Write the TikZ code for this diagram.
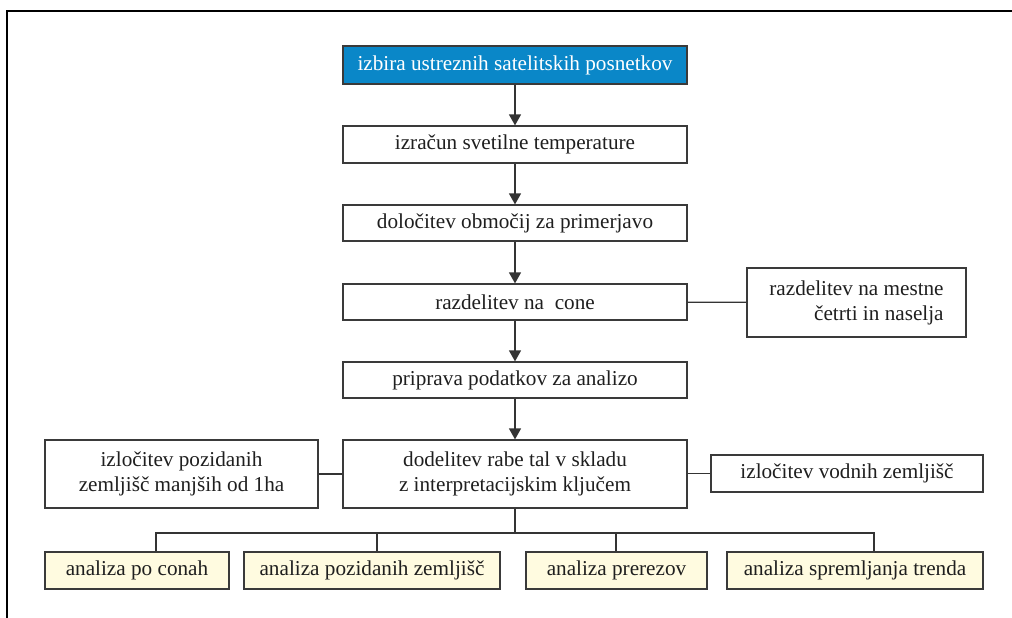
\documentclass[tikz,border=0pt]{standalone}
\usepackage{fontspec}
\setmainfont{Liberation Serif}
\usetikzlibrary{arrows.meta}
\definecolor{bordercol}{HTML}{3A3A3A}
\definecolor{bluefill}{HTML}{0A87C8}
\definecolor{creamfill}{HTML}{FFFBE0}
\begin{document}
\begin{tikzpicture}[x=1pt,y=-1pt,
  box/.style={draw=bordercol, line width=1.2pt, fill=white, inner sep=0pt,
    font=\fontsize{21.2}{25}\selectfont, align=center, text=black!88},
  bluebox/.style={box, fill=bluefill, text=white},
  creambox/.style={box, fill=creamfill},
  conn/.style={draw=bordercol!90!black, line width=1.2pt},
  arr/.style={conn, -{Triangle[width=12pt,length=11pt]}}]
\useasboundingbox (0,0) rectangle (1012,618);
\draw[line width=1.4pt, black] (7,618) -- (7,11) -- (1012,11);

\node[bluebox, minimum width=344, minimum height=38] (n1) at (515,65) {izbira ustreznih satelitskih posnetkov};
\node[box, minimum width=344, minimum height=37] (n2) at (515,144.5) {izračun svetilne temperature};
\node[box, minimum width=344, minimum height=36] (n3) at (515,223) {določitev območij za primerjavo};
\node[box, minimum width=344, minimum height=36] (n4) at (515,302) {razdelitev na \ cone};
\node[box, minimum width=219, minimum height=69, align=right] (m) at (856.5,302.5) {razdelitev na mestne\\četrti in naselja};
\node[box, minimum width=344, minimum height=36] (n5) at (515,380) {priprava podatkov za analizo};
\node[box, minimum width=344, minimum height=68] (n6) at (515,474) {dodelitev rabe tal v skladu\\z interpretacijskim ključem};
\node[box, minimum width=273, minimum height=68] (l) at (181.5,474) {izločitev pozidanih\\zemljišč manjših od 1ha};
\node[box, minimum width=272, minimum height=37] (r) at (847,473.5) {izločitev vodnih zemljišč};

\node[creambox, minimum width=184, minimum height=37] (a1) at (137,570.5) {analiza po conah};
\node[creambox, minimum width=256, minimum height=37] (a2) at (372,570.5) {analiza pozidanih zemljišč};
\node[creambox, minimum width=181, minimum height=37] (a3) at (616.5,570.5) {analiza prerezov};
\node[creambox, minimum width=256, minimum height=37] (a4) at (855,570.5) {analiza spremljanja trenda};

\draw[arr] (n1) -- (n2);
\draw[arr] (n2) -- (n3);
\draw[arr] (n3) -- (n4);
\draw[arr] (n4) -- (n5);
\draw[arr] (n5) -- (n6);
\draw[conn] (n4) -- (m);
\draw[conn] (n6.west |- l) -- (l);
\draw[conn] (n6.east |- r) -- (r);

\coordinate (b1) at (156,533);
\coordinate (b2) at (377,533);
\coordinate (b3) at (616,533);
\coordinate (b4) at (874,533);
\draw[conn] (n6) -- (n6 |- b1);
\draw[conn] (a1.north -| b1) -- (b1) -- (b4) -- (a4.north -| b4);
\draw[conn] (b2) -- (a2.north -| b2);
\draw[conn] (b3) -- (a3.north -| b3);
\end{tikzpicture}
\end{document}
